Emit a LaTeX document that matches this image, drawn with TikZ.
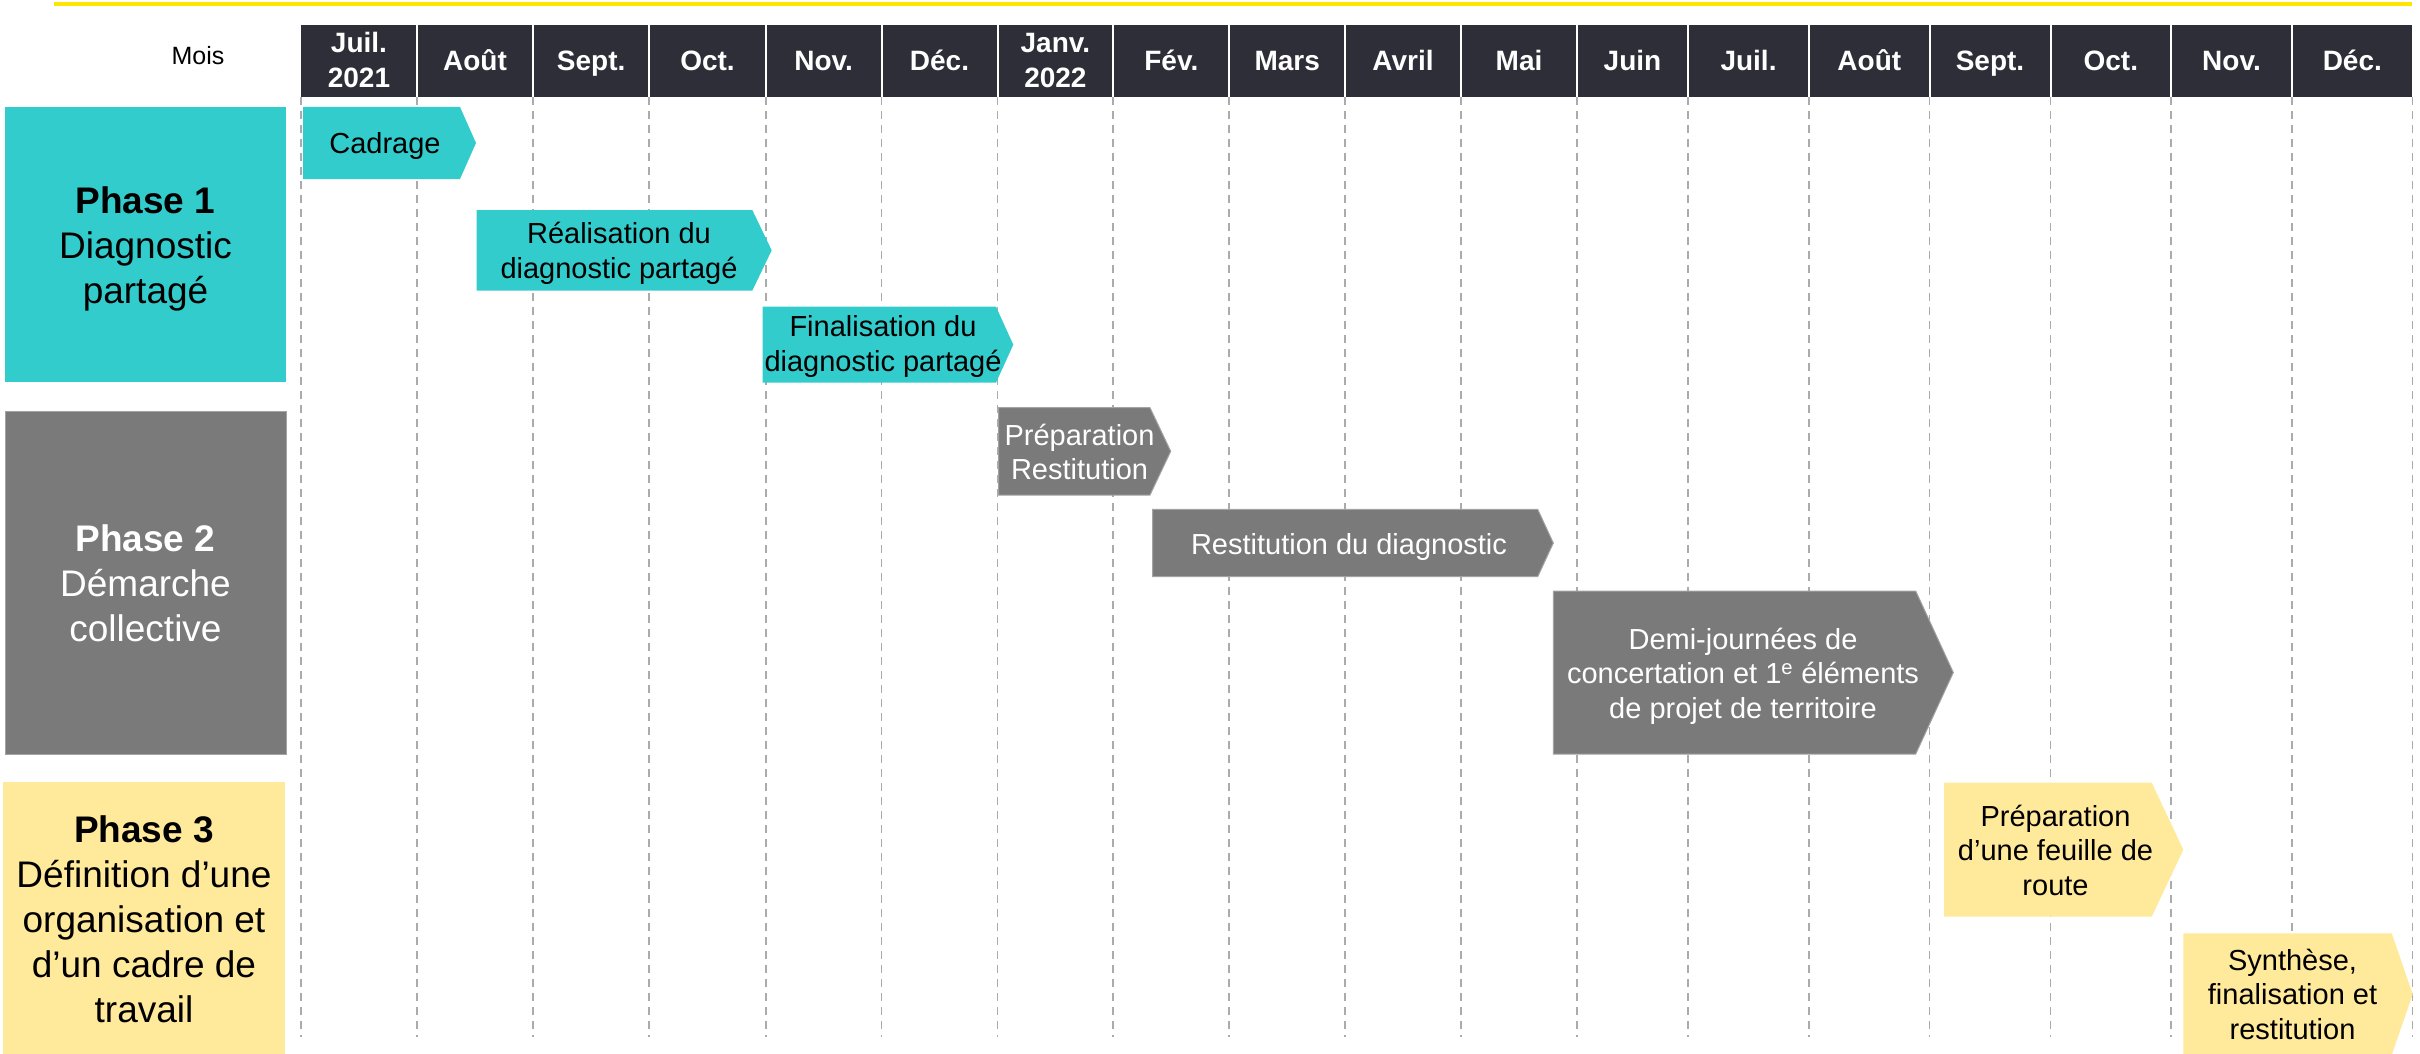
\documentclass[tikz,border=0pt]{standalone}
\usepackage{fontspec}
\setmainfont{Liberation Sans}
\definecolor{tealc}{HTML}{33CCCC}
\definecolor{grayc}{HTML}{7A7A7A}
\definecolor{grayb}{HTML}{A3A3A3}
\definecolor{yelc}{HTML}{FFE99A}
\definecolor{hdrc}{HTML}{2E2E38}
\definecolor{eyyel}{HTML}{FFE600}
\definecolor{gridc}{HTML}{ABABAB}
\tikzset{
  hdrtxt/.style={text=white, font=\bfseries\fontsize{28}{35}\selectfont, align=center, inner sep=0pt},
  acttxt/.style={font=\fontsize{29}{34.5}\selectfont, align=center, inner sep=0pt},
  phtxt/.style={font=\fontsize{37}{45}\selectfont, align=center, inner sep=0pt},
  gridln/.style={draw=gridc, line width=1.8pt, dash pattern=on 8pt off 6pt},
  tealshape/.style={fill=tealc},
  grayshape/.style={fill=grayc, draw=grayb, line width=1pt},
  yelshape/.style={fill=yelc},
}
\begin{document}
\begin{tikzpicture}[x=1pt,y=-1pt]
\useasboundingbox (0,0) rectangle (2420,1054);
% top yellow rule
\coordinate (ruleL) at (54,4);
\coordinate (ruleR) at (2412,4);
\draw[eyyel, line width=3.3pt] (ruleL) -- (ruleR);
% grid lines
\foreach \x in {301,417,533,649.3,765.7,881.5,997.5,1113.3,1229.3,1345,1461,1577,1688,1809,1929.5,2050.5,2171,2292,2412.5}
  \draw[gridln] (\x,97) -- (\x,1037);
% header
\fill[hdrc] (301,25) rectangle (2414,97);
\foreach \x in {417,533,649.3,765.7,881.5,997.5,1113.3,1229.3,1345,1461,1577,1688,1809,1929.5,2050.5,2171,2292,2412.5}
  \draw[white, line width=2pt] (\x,25) -- (\x,97);
\node[font=\fontsize{25}{30}\selectfont, anchor=base, inner sep=0pt] (mois) at (198,65) {Mois};
\node[hdrtxt] (m1)  at (359,63.5)    {\strut Juil.\\\strut 2021};
\node[hdrtxt] (m2)  at (475,63.5)    {\strut Août};
\node[hdrtxt] (m3)  at (591.2,63.5)  {\strut Sept.};
\node[hdrtxt] (m4)  at (707.5,63.5)  {\strut Oct.};
\node[hdrtxt] (m5)  at (823.6,63.5)  {\strut Nov.};
\node[hdrtxt] (m6)  at (939.5,63.5)  {\strut Déc.};
\node[hdrtxt] (m7)  at (1055.4,63.5) {\strut Janv.\\\strut 2022};
\node[hdrtxt] (m8)  at (1171.3,63.5) {\strut Fév.};
\node[hdrtxt] (m9)  at (1287.2,63.5) {\strut Mars};
\node[hdrtxt] (m10) at (1403,63.5)   {\strut Avril};
\node[hdrtxt] (m11) at (1519,63.5)   {\strut Mai};
\node[hdrtxt] (m12) at (1632.5,63.5) {\strut Juin};
\node[hdrtxt] (m13) at (1748.5,63.5) {\strut Juil.};
\node[hdrtxt] (m14) at (1869.3,63.5) {\strut Août};
\node[hdrtxt] (m15) at (1990,63.5)   {\strut Sept.};
\node[hdrtxt] (m16) at (2110.8,63.5) {\strut Oct.};
\node[hdrtxt] (m17) at (2231.5,63.5) {\strut Nov.};
\node[hdrtxt] (m18) at (2352.3,63.5) {\strut Déc.};
% phase boxes
\fill[tealc] (5,107) rectangle (286,382);
\node[phtxt] (p1) at (145.5,249) {\strut\textbf{Phase 1}\\\strut Diagnostic\\\strut partagé};
\filldraw[grayshape] (5,411) rectangle (286,754);
\node[phtxt, text=white] (p2) at (145.5,587) {\strut\textbf{Phase 2}\\\strut Démarche\\\strut collective};
\fill[yelc] (3.3,782.3) rectangle (285,1054);
\node[phtxt] (p3) at (144,923) {\strut\textbf{Phase 3}\\\strut Définition d’une\\\strut organisation et\\\strut d’un cadre de\\\strut travail};
% activities
\fill[tealshape] (303,107) -- (460,107) -- (476,143) -- (460,179) -- (303,179) -- cycle;
\node[acttxt] (a1) at (385,146.4) {\strut Cadrage};
\fill[tealshape] (476.7,210) -- (752.3,210) -- (771.7,250.3) -- (752.3,290.7) -- (476.7,290.7) -- cycle;
\node[acttxt] (a2) at (619,254.3) {\strut Réalisation du\\\strut diagnostic partagé};
\fill[tealshape] (762.7,306.7) -- (996,306.7) -- (1013.3,344.7) -- (996,382.7) -- (762.7,382.7) -- cycle;
\node[acttxt] (a3) at (883,347.3) {\strut Finalisation du\\\strut diagnostic partagé};
\filldraw[grayshape] (998.7,407.7) -- (1150,407.7) -- (1170.7,451.3) -- (1150,495) -- (998.7,495) -- cycle;
\node[acttxt, text=white] (a4) at (1079.5,455.6) {\strut Préparation\\\strut Restitution};
\filldraw[grayshape] (1152.7,509.3) -- (1537.7,509.3) -- (1553.3,543) -- (1537.7,576.7) -- (1152.7,576.7) -- cycle;
\node[acttxt, text=white] (a5) at (1349,547.1) {\strut Restitution du diagnostic};
\filldraw[grayshape] (1553.3,591) -- (1915.7,591) -- (1953.3,672.5) -- (1915.7,754) -- (1553.3,754) -- cycle;
\node[acttxt, text=white] (a6) at (1743,676.6) {\strut Demi-journées de\\\strut concertation et 1\textsuperscript{e} éléments\\\strut de projet de territoire};
\fill[yelshape] (1944,782.7) -- (2151.7,782.7) -- (2183.3,849.7) -- (2151.7,916.7) -- (1944,916.7) -- cycle;
\node[acttxt] (a7) at (2055.5,853.7) {\strut Préparation\\\strut d’une feuille de\\\strut route};
\fill[yelshape] (2183.3,933.3) -- (2391.7,933.3) -- (2412.7,994.2) -- (2391.7,1055) -- (2183.3,1055) -- cycle;
\node[acttxt] (a8) at (2292.5,997.9) {\strut Synthèse,\\\strut finalisation et\\\strut restitution};
\end{tikzpicture}
\end{document}
